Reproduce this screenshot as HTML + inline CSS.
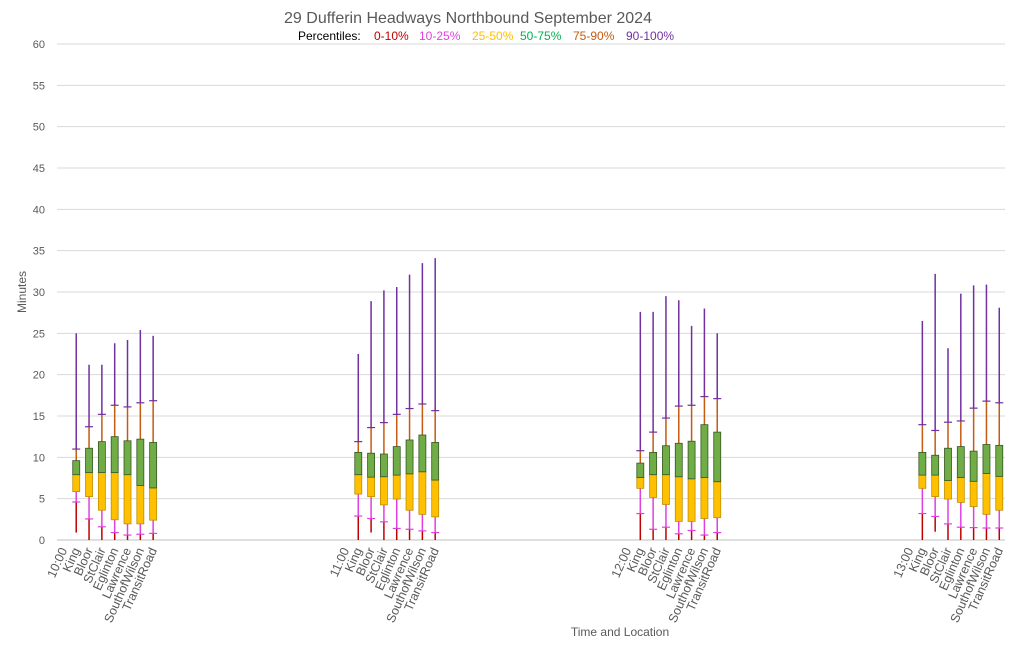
<!DOCTYPE html>
<html><head><meta charset="utf-8"><style>
body{margin:0;background:#fff;font-family:"Liberation Sans",sans-serif}
svg{display:block}
</style></head><body>
<svg id="c" width="1024" height="646" font-family="Liberation Sans, sans-serif">
<rect width="1024" height="646" fill="#fff"/>
<text x="468" y="23" text-anchor="middle" font-size="16" fill="#595959">29 Dufferin Headways Northbound September 2024</text>
<g font-size="12">
<text x="298" y="40" fill="#000">Percentiles:</text>
<text x="374" y="40" fill="#C00000">0-10%</text>
<text x="419" y="40" fill="#E040E0">10-25%</text>
<text x="472" y="40" fill="#FFC000">25-50%</text>
<text x="520" y="40" fill="#00B050">50-75%</text>
<text x="573" y="40" fill="#C55A11">75-90%</text>
<text x="626" y="40" fill="#7030A0">90-100%</text>
</g>
<text transform="translate(26,292) rotate(-90)" text-anchor="middle" font-size="12" fill="#595959">Minutes</text>
<text x="620" y="636" text-anchor="middle" font-size="12" fill="#595959">Time and Location</text>
<g id="grid"></g><g id="marks"></g><g id="labels"></g>
</svg>
<script>
const hours=["10:00","11:00","12:00","13:00"];
const stations=["King","Bloor","StClair","Eglinton","Lawrence","SouthofWilson","TransitRoad"];
const yTicks=[0,5,10,15,20,25,30,35,40,45,50,55,60];
const p0=[[0.9,0,0,0,0,0,0],[0,0.9,0,0,0,0,0],[0,0,0,0,0,0,0],[0,1.0,0,0,0,0,0]];
const p10=[[4.6,2.55,1.6,0.9,0.6,0.7,0.8],[2.9,2.6,2.2,1.4,1.3,1.1,0.9],[3.2,1.3,1.55,0.75,1.15,0.6,0.9],[3.2,2.85,1.95,1.55,1.5,1.45,1.45]];
const p25=[[5.85,5.25,3.6,2.45,1.95,1.95,2.4],[5.55,5.25,4.25,4.95,3.6,3.1,2.8],[6.25,5.15,4.3,2.25,2.25,2.6,2.7],[6.25,5.25,4.95,4.55,4.05,3.1,3.6]];
const p50=[[7.9,8.15,8.15,8.15,7.9,6.6,6.3],[7.9,7.6,7.65,7.85,8.0,8.25,7.25],[7.55,7.9,7.9,7.65,7.4,7.55,7.05],[7.85,7.85,7.2,7.55,7.1,8.05,7.7]];
const p75=[[9.6,11.1,11.9,12.5,12.0,12.2,11.8],[10.6,10.5,10.4,11.3,12.1,12.7,11.8],[9.3,10.6,11.4,11.7,11.95,13.95,13.05],[10.6,10.25,11.1,11.3,10.75,11.55,11.45]];
const p90=[[11.0,13.7,15.2,16.3,16.1,16.6,16.85],[11.9,13.6,14.2,15.2,15.9,16.45,15.65],[10.8,13.05,14.75,16.2,16.3,17.35,17.1],[13.95,13.25,14.25,14.4,15.95,16.8,16.6]];
const p100=[[25.0,21.2,21.2,23.8,24.2,25.4,24.7],[22.5,28.9,30.2,30.6,32.1,33.5,34.1],[27.6,27.6,29.5,29.0,25.9,28.0,25.0],[26.5,32.2,23.2,29.8,30.8,30.9,28.1]];
const NS="http://www.w3.org/2000/svg";
const x0=57,x1=1005,cw=12.82,yb=540,ppm=496/60;
const y=v=>yb-v*ppm;
const xc=i=>x0+(i+0.5)*cw;
function mk(tag,attrs,parent){const e=document.createElementNS(NS,tag);for(const k in attrs)e.setAttribute(k,attrs[k]);parent.appendChild(e);return e;}
const grid=document.getElementById('grid'),marks=document.getElementById('marks'),labels=document.getElementById('labels');
yTicks.forEach(t=>{
  const l=mk('line',{x1:x0,x2:x1,y1:y(t),y2:y(t),stroke:t===0?'#bfbfbf':'#d9d9d9','stroke-width':1},grid);
  
  
  const tx=mk('text',{x:45,y:y(t)+4,'text-anchor':'end','font-size':11,fill:'#595959'},grid);
  tx.textContent=t;
  
  
});
function lab(i,txt){
  const cx=xc(i)+4;
  const t=mk('text',{transform:`translate(${cx},550) rotate(-66)`,'text-anchor':'end','font-size':12.5,fill:'#595959'},labels);
  t.textContent=txt;
  
  
}
hours.forEach((h,g)=>{
  lab(22*g,h);
  stations.forEach((s,k)=>{
    const i=22*g+1+k,cx=xc(i);
    lab(i,s);
    const grp=mk('g',{},marks);
    
    
    const seg=(a,b,c)=>mk('line',{x1:cx,x2:cx,y1:y(a),y2:y(b),stroke:c,'stroke-width':1.5},grp);
    seg(p0[g][k],p10[g][k],'#C00000');
    seg(p10[g][k],p25[g][k],'#E040E0');
    seg(p75[g][k],p90[g][k],'#C55A11');
    seg(p90[g][k],p100[g][k],'#7030A0');
    mk('rect',{x:cx-3.5,y:y(p50[g][k]),width:7,height:y(p25[g][k])-y(p50[g][k]),fill:'#FFC000',stroke:'#BF9000','stroke-width':0.8},grp);
    mk('rect',{x:cx-3.5,y:y(p75[g][k]),width:7,height:y(p50[g][k])-y(p75[g][k]),fill:'#70AD47',stroke:'#375623','stroke-width':0.8},grp);
    mk('line',{x1:cx-4,x2:cx+4,y1:y(p10[g][k]),y2:y(p10[g][k]),stroke:'#E040E0','stroke-width':1.2},grp);
    mk('line',{x1:cx-4,x2:cx+4,y1:y(p90[g][k]),y2:y(p90[g][k]),stroke:'#7030A0','stroke-width':1.2},grp);
  });
});
</script>
</body></html>
